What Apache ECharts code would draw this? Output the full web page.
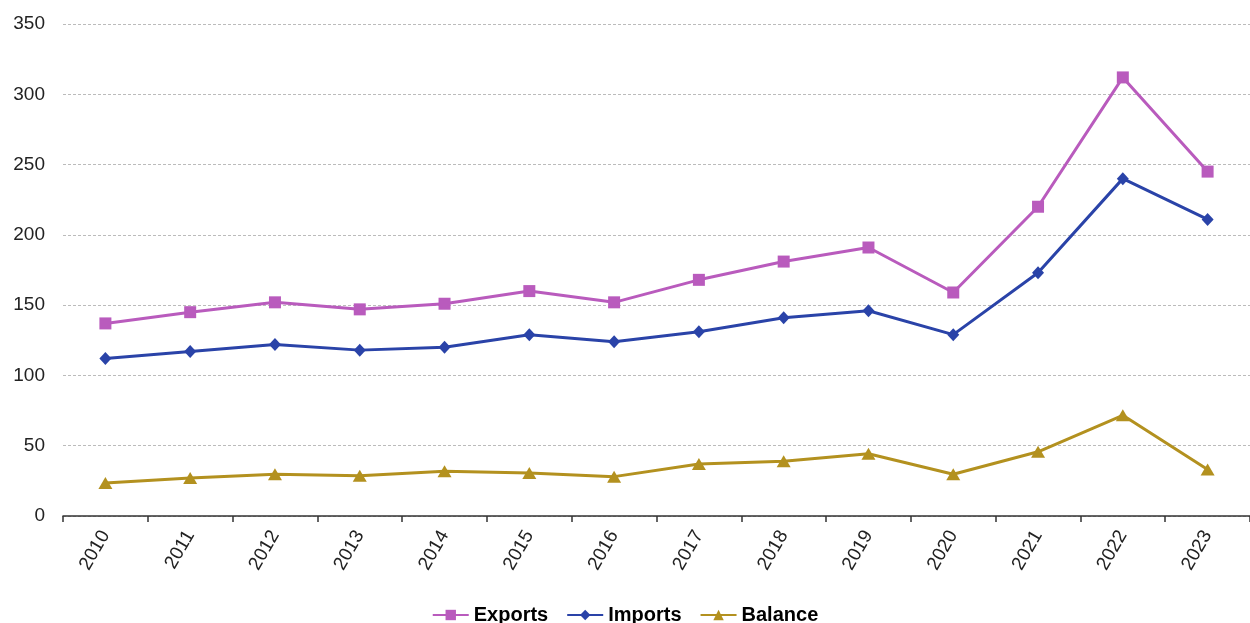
<!DOCTYPE html>
<html>
<head>
<meta charset="utf-8">
<script src="https://cdn.jsdelivr.net/npm/echarts@6/dist/echarts.min.js"></script>
<style>
html,body{margin:0;padding:0;background:#fff;}
#chart{width:1250px;height:623px;}
</style>
</head>
<body>
<div id="chart"></div>
<script>
const years = ['2010','2011','2012','2013','2014','2015','2016','2017','2018','2019','2020','2021','2022','2023'];
const exportsData = [137, 145, 152, 147, 151, 160, 152, 168, 181, 191, 159, 220, 312, 245];
const importsData = [112, 117, 122, 118, 120, 129, 124, 131, 141, 146, 129, 173, 240, 211];
const balanceData = [23.5, 27, 29.7, 28.7, 31.8, 30.6, 28, 37, 38.9, 44.3, 29.7, 45.7, 71.6, 33];
const yTicks = [0, 50, 100, 150, 200, 250, 300, 350];

const chart = echarts.init(document.getElementById('chart'), null, {renderer: 'canvas'});
const font = 'Liberation Sans, Arial, sans-serif';
chart.setOption({
  animation: false,
  backgroundColor: '#fff',
  grid: {left: 63, right: -6, top: 24, bottom: 107, containLabel: false},
  legend: {
    bottom: -7,
    left: 'center',
    itemWidth: 36,
    itemHeight: 13,
    itemGap: 18,
    textStyle: {fontFamily: font, fontSize: 20, fontWeight: 'bold', color: '#000'},
    data: ['Exports', 'Imports', 'Balance']
  },
  xAxis: {
    type: 'category',
    data: years,
    boundaryGap: true,
    axisLine: {lineStyle: {color: '#333', width: 1.5}},
    axisTick: {show: true, length: 6, lineStyle: {color: '#333', width: 1.5}},
    axisLabel: {rotate: 60, fontFamily: font, fontSize: 19, color: '#222', margin: 16}
  },
  yAxis: {
    type: 'value',
    min: yTicks[0],
    max: yTicks[yTicks.length - 1],
    interval: 50,
    axisLine: {show: false},
    axisTick: {show: false},
    axisLabel: {fontFamily: font, fontSize: 19, color: '#222', margin: 18},
    splitLine: {lineStyle: {color: '#bbb', type: [3, 2], width: 1}}
  },
  series: [
    {
      name: 'Exports', type: 'line', data: exportsData,
      symbol: 'rect', symbolSize: 12,
      itemStyle: {color: '#b95bbd'},
      lineStyle: {color: '#b95bbd', width: 3}
    },
    {
      name: 'Imports', type: 'line', data: importsData,
      symbol: 'diamond', symbolSize: [12, 13],
      itemStyle: {color: '#2a43a8'},
      lineStyle: {color: '#2a43a8', width: 3}
    },
    {
      name: 'Balance', type: 'line', data: balanceData,
      symbol: 'triangle', symbolSize: [14, 12],
      itemStyle: {color: '#b3911f'},
      lineStyle: {color: '#b3911f', width: 3}
    }
  ]
});
</script>
</body>
</html>
